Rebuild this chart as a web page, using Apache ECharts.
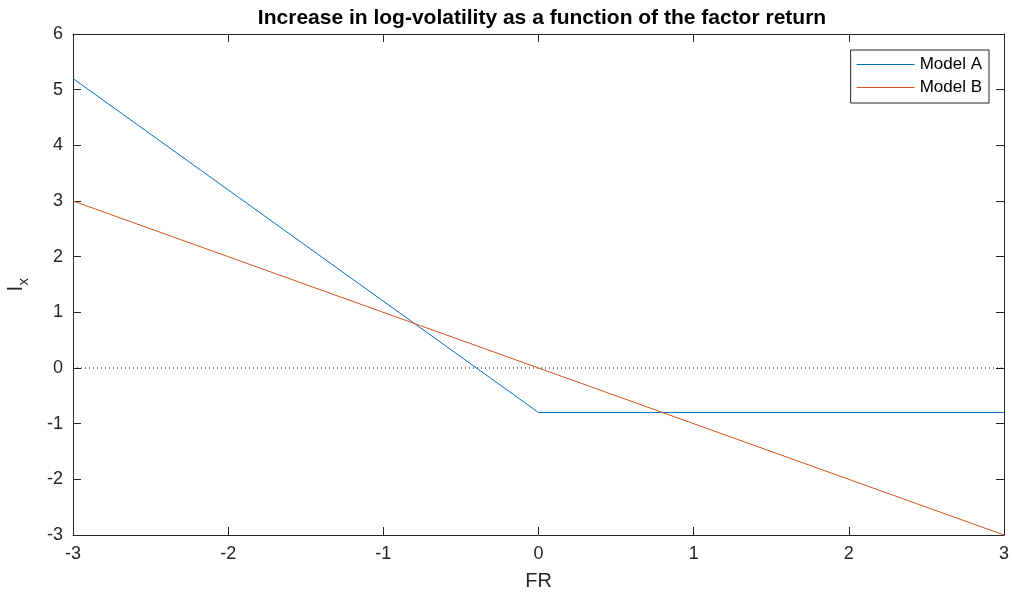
<!DOCTYPE html>
<html><head><meta charset="utf-8">
<script src="https://cdn.jsdelivr.net/npm/echarts@6/dist/echarts.min.js"></script>
<style>html,body{margin:0;padding:0;background:#fff}#c{width:1012px;height:599px}</style>
</head><body><div id="c"></div>
<script>
const titleText = 'Increase in log-volatility as a function of the factor return';
const xTicks = [-3, -2, -1, 0, 1, 2, 3];
const yTicks = [-3, -2, -1, 0, 1, 2, 3, 4, 5, 6];
const modelAX = [-3, 0, 3];
const modelAY = [5.2, -0.8, -0.8];
const modelBX = [-3, 3];
const modelBY = [3, -3];
const zeroX = [-3, 3];
const zeroY = [0, 0];
const pair = (xs, ys) => xs.map((x, i) => [x, ys[i]]);
const axisCol = '#262626';
const font = 'Liberation Sans, Arial, sans-serif';
const baseAxis = {
  axisLine: {show: true, onZero: false, lineStyle: {color: axisCol, width: 1}},
  axisTick: {show: true, inside: true, length: 8, lineStyle: {color: axisCol}},
  splitLine: {show: false},
};
const chart = echarts.init(document.getElementById('c'), null, {renderer: 'canvas'});
chart.setOption({
  animation: false,
  backgroundColor: '#fff',
  title: {text: titleText, left: 537, top: 3, textAlign: 'center',
    textStyle: {fontFamily: font, fontSize: 21, fontWeight: 'bold', color: '#000'}},
  grid: {left: 73, right: 8, top: 34, bottom: 64, containLabel: false, outerBoundsMode: 'none'},
  legend: {
    data: ['Model A', 'Model B'], orient: 'vertical', right: 23, top: 50,
    backgroundColor: '#fff', borderColor: axisCol, borderWidth: 1, borderRadius: 0,
    padding: [6, 7, 7, 6], itemGap: 6, itemWidth: 58, itemHeight: 1, icon: 'rect',
    textStyle: {fontFamily: font, fontSize: 17, color: '#000'}
  },
  xAxis: [
    Object.assign({}, baseAxis, {type: 'value', min: -3, max: 3, interval: 1, position: 'bottom',
      name: 'FR', nameLocation: 'middle', nameGap: 36,
      nameTextStyle: {fontFamily: font, fontSize: 20, color: axisCol},
      axisLabel: {fontFamily: font, fontSize: 18, color: axisCol, margin: 10}}),
    Object.assign({}, baseAxis, {type: 'value', min: -3, max: 3, interval: 1, position: 'top',
      axisLabel: {show: false}})
  ],
  yAxis: [
    Object.assign({}, baseAxis, {type: 'value', min: -3, max: 6, interval: 1, position: 'left',
      name: '{a|l}{b|x}', nameLocation: 'middle', nameGap: 42, nameRotate: 90,
      nameTextStyle: {rich: {
        a: {fontFamily: font, fontSize: 21, color: axisCol},
        b: {fontFamily: font, fontSize: 15, color: axisCol, padding: [14, 0, 0, 1]}
      }},
      axisLabel: {fontFamily: font, fontSize: 18, color: axisCol, margin: 10}}),
    Object.assign({}, baseAxis, {type: 'value', min: -3, max: 6, interval: 1, position: 'right',
      axisLabel: {show: false}})
  ],
  series: [
    {name: 'Model A', type: 'line', data: pair(modelAX, modelAY), showSymbol: false, symbol: 'none',
      color: '#0072BD', lineStyle: {width: 1, color: '#0072BD'}, z: 3},
    {name: 'Model B', type: 'line', data: pair(modelBX, modelBY), showSymbol: false, symbol: 'none',
      color: '#D95319', lineStyle: {width: 1, color: '#D95319'}, z: 3},
    {name: 'zero', type: 'line', data: pair(zeroX, zeroY), showSymbol: false, symbol: 'none',
      color: '#000', lineStyle: {width: 1, color: '#000', type: [1, 3]}, z: 2}
  ]
});
</script></body></html>
